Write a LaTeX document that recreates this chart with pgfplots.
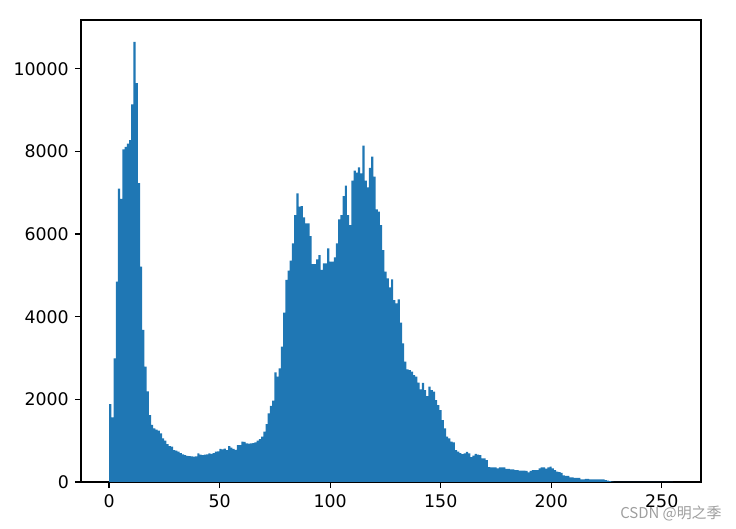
\documentclass[border=0pt]{standalone}
\usepackage{fontspec}
\setmainfont{DejaVu Sans}
\newfontfamily\cjk{Noto Sans CJK SC}
\usepackage{pgfplots}
\usepackage{pgfplotstable}
\pgfplotsset{compat=1.18}
\definecolor{mplblue}{HTML}{1F77B4}
\pgfplotstableread{
count
1887
1565
2990
4850
7100
6850
8050
8110
8190
8270
9140
10650
9650
7230
5210
3680
2790
2190
1620
1380
1298
1270
1242
1178
1057
1000
919
870
855
774
760
734
700
670
650
629
625
620
613
620
694
660
653
660
670
690
680
700
735
740
800
790
810
770
870
830
800
780
890
895
975
970
935
930
935
940
960
1000
1040
1100
1218
1403
1662
1839
1968
2654
2548
2750
3274
4097
4888
5113
5355
5775
6460
6985
6661
6678
6404
6259
6259
5952
5275
5275
5388
5492
5130
5291
5291
5654
5331
5331
5436
5775
6356
6460
6920
7170
6460
6218
7290
7532
7484
7614
7469
8137
7290
7130
7600
7871
7387
6598
6541
6218
5613
5089
4928
4711
4904
4404
4323
4420
3855
3356
2911
2726
2710
2670
2589
2548
2403
2243
2400
2226
2080
2306
2226
2185
1984
1863
1742
1500
1298
1097
1057
975
960
774
734
700
677
690
730
690
600
640
680
660
650
573
570
532
360
355
355
355
331
355
355
355
315
315
307
307
290
290
274
274
274
266
234
266
290
290
290
331
355
355
323
355
371
331
290
250
240
220
161
150
145
113
113
100
97
97
65
65
73
73
65
65
65
65
65
65
65
48
32
20
8
5
4
3
2
2
1
1
1
0
0
0
0
0
0
0
0
0
0
0
0
0
0
0
0
0
0
1
0
}\histdata
\begin{document}
\begin{tikzpicture}
\begin{axis}[
  scale only axis,
  width=357.1pt, height=266.1pt,
  xmin=-12.75, xmax=267.75,
  ymin=0, ymax=11180,
  xtick={0,50,100,150,200,250},
  ytick={0,2000,4000,6000,8000,10000},
  scaled y ticks=false,
  tick pos=left,
  tick align=outside,
  major tick length=3.5pt,
  tick style={black, line width=0.8pt},
  axis line style={line width=0.8pt},
  tick label style={font=\fontsize{10}{12}\selectfont},
  /pgf/number format/assume math mode=true,
  /pgf/number format/1000 sep={},
]
\addplot[ybar interval, fill=mplblue, draw=none] table[x expr=\coordindex*255/256, y=count] {\histdata};
\end{axis}
\node[anchor=east, text=black!38, font=\cjk\fontsize{8.6}{10}\selectfont] at (372.5pt,-17.9pt) {CSDN @明之季};
\pgfresetboundingbox
\useasboundingbox (-46.66pt,-27.07pt) rectangle (377.26pt,277.62pt);
\end{tikzpicture}
\end{document}
